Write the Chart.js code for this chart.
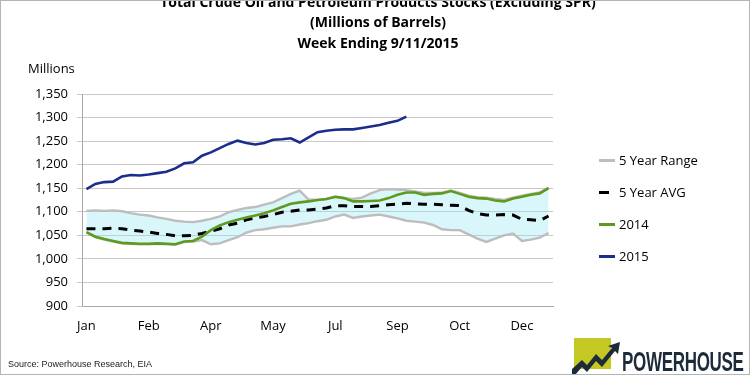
<!DOCTYPE html>
<html>
<head>
<meta charset="utf-8">
<script src="https://cdn.jsdelivr.net/npm/chart.js@4.4.1/dist/chart.umd.min.js"></script>
<style>
html,body{margin:0;padding:0;background:#fff;}
#wrap{position:relative;width:750px;height:375px;overflow:hidden;background:#fff;font-family:'Open Sans',sans-serif;color:#000;}
#c{position:absolute;left:0;top:0;}
#frame{position:absolute;left:0;top:0;width:748px;height:373px;border:1px solid #b4b4b4;pointer-events:none;}
.title{position:absolute;left:0;width:756px;text-align:center;font-weight:bold;font-size:14px;line-height:20px;white-space:nowrap;}
#ylab{position:absolute;left:28px;top:59px;font-size:13px;}
#legend{position:absolute;left:599px;top:150px;}
.li{position:absolute;left:0;height:20px;white-space:nowrap;font-size:13px;}
.li i{position:absolute;left:0;top:9px;width:16px;height:3px;}
.li span{position:absolute;left:20px;top:0;line-height:20px;}
#src{position:absolute;left:8px;top:359px;font-family:'Liberation Sans',Arial,sans-serif;font-size:9px;color:#222;}
#logo{position:absolute;left:572px;top:336px;width:178px;height:39px;}
#logo .sq{position:absolute;left:2px;top:2px;width:37px;height:31px;background:#c5c823;}
#logo svg{position:absolute;left:0;top:0;}
#logo .pw{position:absolute;left:50px;top:12px;font-family:'Liberation Sans',Arial,sans-serif;font-weight:bold;font-size:27px;line-height:28px;color:#1d2a39;transform:scaleX(0.63);transform-origin:left top;letter-spacing:-0.5px;}
</style>
</head>
<body>
<div id="wrap">
  <canvas id="c" width="750" height="375"></canvas>
  <div class="title" style="top:-8px;">Total Crude Oil and Petroleum Products Stocks (Excluding SPR)</div>
  <div class="title" style="top:12px;">(Millions of Barrels)</div>
  <div class="title" style="top:33px;">Week Ending 9/11/2015</div>
  <div id="ylab">Millions</div>
  <div id="legend"></div>
  <div id="src">Source: Powerhouse Research, EIA</div>
  <div id="logo">
    <div class="sq"></div>
    <svg width="70" height="39" viewBox="0 0 70 39"><polygon points="0,39 0,33 10,24 15,29 24,18 30,24 40,12 36,10 48,6 46,18 43,15 30,31 24,25 15,36 10,31 3,39" fill="#1d2a39"/></svg>
    <div class="pw">POWERHOUSE</div>
  </div>
  <div id="frame"></div>
</div>
<script>
// Weekly categories (week ending dates, 2015 calendar), shown as month names
const weeks = ['Jan','Jan','Jan','Jan','Jan','Feb','Feb','Feb','Feb','Mar','Mar','Mar','Mar','Apr','Apr','Apr','Apr','May','May','May','May','May','Jun','Jun','Jun','Jun','Jul','Jul','Jul','Jul','Jul','Aug','Aug','Aug','Aug','Sep','Sep','Sep','Sep','Oct','Oct','Oct','Oct','Oct','Nov','Nov','Nov','Nov','Dec','Dec','Dec','Dec','Jan'];
const labelEvery = 7;

const yTicks = { min: 900, max: 1350, step: 50 };

const range5Max = [1102,1103,1102,1103,1101,1097,1094,1092,1088,1085,1081,1079,1078,1081,1085,1090,1099,1104,1108,1110,1115,1120,1129,1138,1145,1126,1125,1127,1132,1129,1127,1130,1139,1146,1148,1147,1146,1143,1140,1140,1141,1145,1140,1134,1131,1130,1127,1125,1130,1134,1138,1141,1151];
const range5Min = [1056,1046,1041,1037,1033,1032,1031,1031,1032,1031,1030,1036,1037,1040,1031,1033,1040,1046,1056,1061,1063,1066,1069,1069,1073,1076,1080,1083,1090,1094,1087,1090,1092,1094,1090,1086,1081,1079,1077,1072,1063,1061,1061,1052,1043,1036,1043,1050,1054,1038,1041,1045,1055];
const avg5 = [1064,1064,1064,1065,1064,1061,1059,1057,1054,1052,1049,1049,1050,1054,1059,1064,1072,1076,1083,1087,1090,1094,1099,1101,1104,1104,1106,1108,1113,1113,1111,1111,1111,1113,1115,1116,1118,1117,1116,1116,1115,1114,1113,1103,1096,1093,1093,1094,1093,1084,1083,1081,1091];
const stocks2014 = [1057,1047,1042,1038,1034,1033,1032,1032,1033,1032,1031,1037,1038,1047,1061,1071,1078,1083,1088,1092,1097,1103,1110,1117,1120,1122,1125,1127,1132,1129,1122,1122,1123,1124,1129,1136,1141,1141,1136,1138,1139,1144,1138,1132,1129,1128,1124,1122,1128,1132,1136,1139,1150];
const stocks2015 = [1148,1159,1163,1164,1175,1178,1177,1179,1182,1185,1192,1203,1205,1219,1226,1235,1244,1251,1246,1243,1246,1253,1254,1256,1247,1258,1269,1272,1274,1275,1275,1278,1281,1284,1289,1293,1302];

const seriesNames = ['5 Year Range','5 Year AVG','2014','2015'];
const seriesColors = ['#bdbdbd','#000000','#5e9a1e','#1b2d8c'];

const datasets = [
  { label: seriesNames[3], data: stocks2015, borderColor: seriesColors[3], borderWidth: 2.6, order: 0, fill: false },
  { label: seriesNames[2], data: stocks2014, borderColor: seriesColors[2], borderWidth: 2.6, order: 1, fill: false },
  { label: seriesNames[1], data: avg5, borderColor: seriesColors[1], borderWidth: 3, borderDash: [9,7], order: 2, fill: false },
  { label: seriesNames[0], data: range5Max, borderColor: seriesColors[0], borderWidth: 2.4, order: 3, fill: false },
  { label: '5 Year Min', data: range5Min, borderColor: seriesColors[0], borderWidth: 2.4, order: 4, fill: '-1', backgroundColor: 'rgba(150,230,242,0.36)' }
];

new Chart(document.getElementById('c'), {
  type: 'line',
  data: { labels: weeks, datasets },
  options: {
    responsive: false,
    animation: false,
    devicePixelRatio: 1,
    layout: { padding: { left: 0, right: 197, top: 94, bottom: 0 } },
    plugins: { legend: { display: false }, title: { display: false }, tooltip: { enabled: false } },
    elements: { point: { radius: 0, hoverRadius: 0 }, line: { tension: 0 } },
    scales: {
      x: {
        type: 'category',
        offset: true,
        grid: { drawOnChartArea: false, drawTicks: false },
        border: { display: true, color: '#a8a8a8', width: 1 },
        ticks: {
          autoSkip: false, maxRotation: 0, minRotation: 0, padding: 12,
          color: '#000', font: { family: 'Open Sans', size: 13 },
          callback: (v, i) => (i % labelEvery === 0 ? weeks[i] : '')
        },
        afterFit: (s) => { s.height = 69; }
      },
      y: {
        min: yTicks.min, max: yTicks.max,
        grid: { color: '#c8c8c8', lineWidth: 1, drawTicks: true, tickLength: 5 },
        border: { display: true, color: '#a8a8a8', width: 1 },
        ticks: {
          stepSize: yTicks.step, padding: 9, color: '#000',
          font: { family: 'Open Sans', size: 13 },
          callback: (v) => Number(v).toLocaleString('en-US')
        },
        afterFit: (s) => { s.width = 82; }
      }
    }
  }
});

// HTML legend built from series names/colors
const legend = document.getElementById('legend');
const legendTops = [0, 32, 64, 96];
seriesNames.forEach((n, k) => {
  const d = document.createElement('div');
  d.className = 'li';
  d.style.top = legendTops[k] + 'px';
  const sw = document.createElement('i');
  sw.style.background = seriesColors[k];
  if (k === 1) { sw.style.width = '10px'; }
  const sp = document.createElement('span');
  sp.textContent = n;
  d.appendChild(sw); d.appendChild(sp);
  legend.appendChild(d);
});
</script>
</body>
</html>
